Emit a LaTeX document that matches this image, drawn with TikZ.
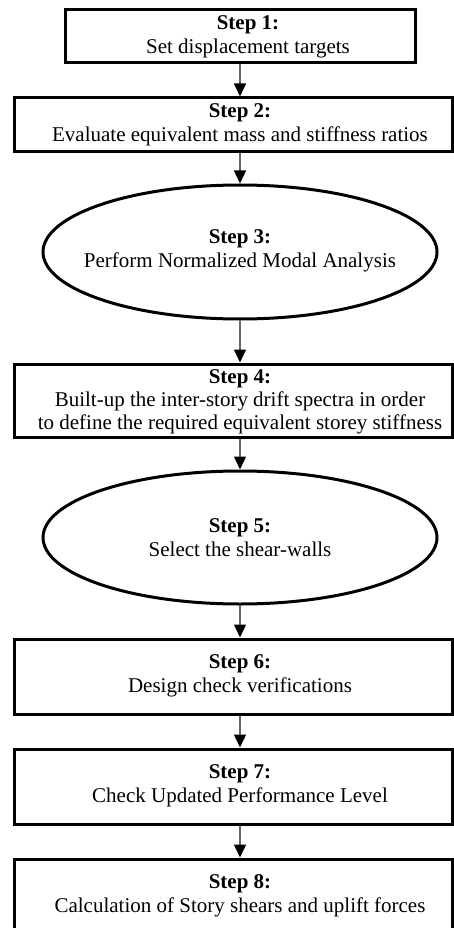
\documentclass[tikz,border=0pt]{standalone}
\usepackage{fontspec}
\setmainfont{Liberation Serif}
\usetikzlibrary{arrows.meta,shapes.geometric}

\tikzset{
  stepbox/.style={draw=black, line width=3pt, rectangle, inner sep=0pt},
  widebox/.style={stepbox, minimum width=438pt},
  stepell/.style={draw=black, line width=3pt, ellipse, inner sep=0pt,
                  minimum width=394pt},
  steptext/.style={align=center, inner sep=0pt,
                   font=\fontsize{21}{24}\selectfont},
  flow/.style={draw=black!60, line width=1.3pt,
               -{Triangle[length=13pt,width=12pt,color=black]}},
}

\begin{document}
\begin{tikzpicture}[x=1pt,y=-1pt]
  \useasboundingbox (0,0) rectangle (454,928);
  \clip (0,0) rectangle (454,928);
  \fill[white] (0,0) rectangle (454,928);

  % vertical axis along which the flow runs
  \coordinate (axis) at (240,0);

  % frames
  \node[stepbox, minimum width=350pt, minimum height=53pt] (b1) at (240,36.5) {};
  \node[widebox, minimum height=54pt] (b2) at (233,125) {};
  \node[stepell, minimum height=134pt] (e3) at (240,252) {};
  \node[widebox, minimum height=73pt] (b4) at (233,400.5) {};
  \node[stepell, minimum height=133pt] (e5) at (240,537.5) {};
  \node[widebox, minimum height=75pt] (b6) at (233,676.5) {};
  \node[widebox, minimum height=75pt] (b7) at (233,786.5) {};
  \node[widebox, minimum height=77pt] (b8) at (233,897.5) {};

  % texts
  \node[steptext] (t1) at (248,37) {\textbf{Step 1:}\\Set displacement targets};
  \node[steptext] (t2) at (240,125) {\textbf{Step 2:}\\Evaluate equivalent mass and stiffness ratios};
  \node[steptext] (t3) at (240,251) {\textbf{Step 3:}\\Perform Normalized Modal Analysis};
  \node[steptext, font=\fontsize{21}{23}\selectfont] (t4) at (240,402)
    {\textbf{Step 4:}\\Built-up the inter-story drift spectra in order\\to define the required equivalent storey stiffness};
  \node[steptext] (t5) at (240,538) {\textbf{Step 5:}\\Select the shear-walls};
  \node[steptext] (t6) at (240,676) {\textbf{Step 6:}\\Design check verifications};
  \node[steptext] (t7) at (240,786) {\textbf{Step 7:}\\Check Updated Performance Level};
  \node[steptext] (t8) at (240,896) {\textbf{Step 8:}\\Calculation of Story shears and uplift forces};

  % connectors
  \draw[flow] (b1.south) -- (axis |- b2.north);
  \draw[flow] (axis |- b2.south) -- (e3.north);
  \draw[flow] (e3.south) -- (axis |- b4.north);
  \draw[flow] (axis |- b4.south) -- (e5.north);
  \draw[flow] (e5.south) -- (axis |- b6.north);
  \draw[flow] (axis |- b6.south) -- (axis |- b7.north);
  \draw[flow] (axis |- b7.south) -- (axis |- b8.north);
\end{tikzpicture}
\end{document}
